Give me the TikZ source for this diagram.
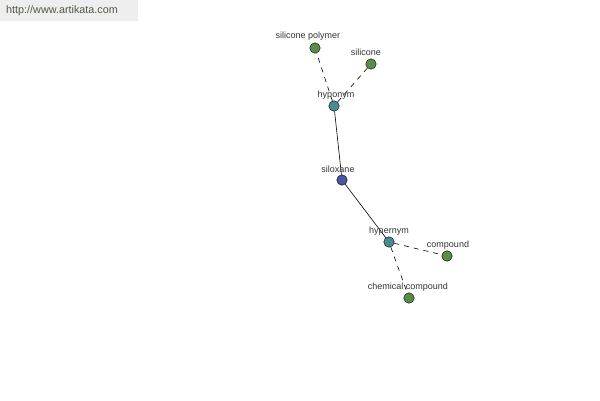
\documentclass[tikz,border=0pt]{standalone}
\usepackage{fontspec}
\setmainfont{Liberation Sans}
\definecolor{leaf}{RGB}{88,140,72}
\definecolor{rel}{RGB}{72,140,140}
\definecolor{core}{RGB}{72,88,160}
\definecolor{bannerbg}{RGB}{238,238,238}
\definecolor{bannertx}{RGB}{80,90,70}
\tikzset{
  dot/.style={circle,draw=black,line width=0.4pt,minimum size=10.5pt,inner sep=0pt},
  leafdot/.style={dot,fill=leaf},
  reldot/.style={dot,fill=rel},
  coredot/.style={dot,fill=core},
  lbl/.style={font=\fontsize{9}{10}\selectfont,text=black!80,inner sep=0pt},
  solidedge/.style={line width=0.6pt},
  dashedge/.style={line width=0.6pt,dash pattern=on 5pt off 5pt}
}
\begin{document}
\begin{tikzpicture}[x=1pt,y=-1pt]
\useasboundingbox (0,0) rectangle (600,400);
\fill[white] (0,0) rectangle (600,400);
\fill[bannerbg] (0,0) rectangle (138,21);
\node[font=\fontsize{10.8}{12}\selectfont,text=bannertx,anchor=west,inner sep=0pt] (banner) at (6,11) {http://www.artikata.com};
\node[coredot] (siloxane) at (342,180) {};
\node[reldot] (hyponym) at (334,106) {};
\node[reldot] (hypernym) at (389,242) {};
\node[leafdot] (sp) at (315,48) {};
\node[leafdot] (si) at (371,64) {};
\node[leafdot] (comp) at (447,256) {};
\node[leafdot] (cc) at (409,298) {};
\draw[solidedge] (siloxane) -- (hyponym);
\draw[solidedge] (siloxane) -- (hypernym);
\draw[dashedge] (hyponym) -- (sp);
\draw[dashedge] (hyponym) -- (si);
\draw[dashedge] (hypernym) -- (comp);
\draw[dashedge] (hypernym) -- (cc);
\node[lbl] (lsp) at (308,36) {silicone polymer};
\node[lbl] (lsi) at (366,52) {silicone};
\node[lbl] (lhypo) at (336,95) {hyponym};
\node[lbl] (lsil) at (338,169) {siloxane};
\node[lbl] (lhyper) at (389,231) {hypernym};
\node[lbl] (lcomp) at (448,245) {compound};
\node[lbl] (lcc) at (408,287) {chemical compound};
\end{tikzpicture}
\end{document}
